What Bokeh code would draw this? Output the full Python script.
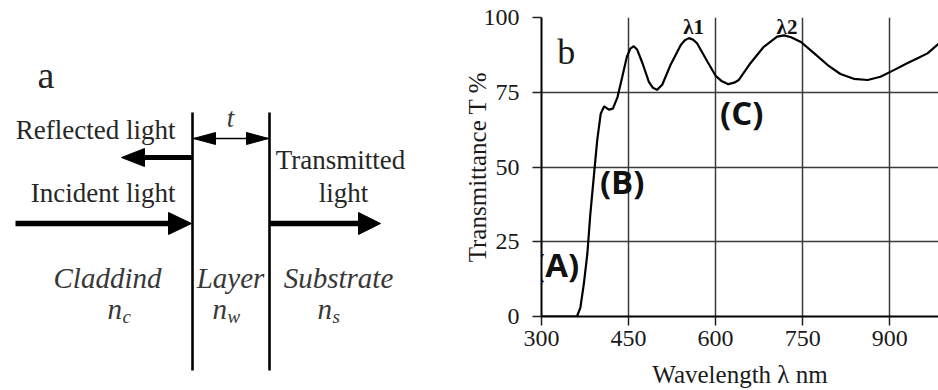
from bokeh.plotting import figure
from bokeh.layouts import row
from bokeh.models import Range1d, FixedTicker, Label
from bokeh.core.properties import value
from bokeh.embed import file_html
from bokeh.resources import INLINE

# ---------------- data (panel b) ----------------
WAVELENGTH = [300, 330, 361, 367, 373, 379, 384, 390, 396, 402, 408, 416, 423,
              431, 439, 447, 453, 459, 465, 474, 485, 492, 499, 508, 522, 540,
              547, 554, 561, 568, 586, 600, 610, 622, 632, 640, 660, 683, 706,
              718, 730, 747, 770, 793, 815, 838, 862, 884, 907, 930, 948, 965, 984]
TRANSMITTANCE = [0, 0, 0, 3, 11, 21, 34, 46.5, 59, 67.8, 70.3, 69.2, 69.5,
                 73.4, 80, 86.8, 89.6, 90.4, 89.2, 84.7, 78.5, 76.5, 75.8, 77.5, 84, 90.8,
                 92.4, 93.1, 92.6, 91.4, 85.2, 80.5, 78.8, 77.7, 78.2, 79.1, 84.7, 90.2, 93.6,
                 94, 93.4, 91.8, 88, 84.1, 81.1, 79.5, 79.1, 80.2, 82.4, 84.7, 86.4, 88, 91.2]
X_TICKS = [300, 450, 600, 750, 900]
Y_TICKS = [0, 25, 50, 75, 100]

REGION_LABELS = ["(A)", "(B)", "(C)"]
REGION_X = [326, 439, 645]
REGION_Y = [24.8, 52.8, 75.7]     # top of text box
PEAK_LABELS = ["λ1", "λ2"]
PEAK_X = [562, 723]
PEAK_Y = [101, 101]

# ---------------- diagram (panel a), pixel layout ----------------
DIAG_VLINES_X = [192, 269]
DIAG_VLINES_Y = [112, 370]
# arrows: (x_start, x_tip, y, shaft width, head length, head half width)
DIAG_ARROWS = [
    (192, 121, 157, 5, 23, 9),     # reflected
    (15, 191, 223, 5.5, 23, 11),   # incident
    (269, 380, 223, 5.5, 22, 11),  # transmitted
]
DIM_Y = 138
DIAG_TEXTS = [  # text, x, baseline y, size px, align, style
    ("a", 37, 87, 38, "left", "normal"),
    ("Reflected light", 175, 139, 27, "right", "normal"),
    ("Incident light", 175, 202, 27, "right", "normal"),
    ("Transmitted", 340, 169, 27, "center", "normal"),
    ("light", 343, 202, 27, "center", "normal"),
    ("t", 230, 127, 27, "center", "italic"),
    ("Claddind", 107, 287, 29, "center", "italic"),
    ("Layer", 230, 287, 29, "center", "italic"),
    ("Substrate", 338, 287, 29, "center", "italic"),
    ("n", 107, 318, 29, "left", "italic"),
    ("n", 212, 318, 29, "left", "italic"),
    ("n", 317, 318, 29, "left", "italic"),
    ("c", 122, 322, 19, "left", "italic"),
    ("w", 227, 322, 19, "left", "italic"),
    ("s", 332, 322, 19, "left", "italic"),
]

SERIF = value("Liberation Serif")
SERIF_ASCENT = 0.891


def head(tip_x, tip_y, direction, length, half):
    base = tip_x - direction * length
    return [tip_x, base, base], [tip_y, tip_y - half, tip_y + half]


# ---------------- left figure ----------------
left = figure(width=460, height=390, x_range=Range1d(0, 460), y_range=Range1d(390, 0),
              x_axis_type=None, y_axis_type=None, output_backend="svg",
              toolbar_location=None, min_border=0, outline_line_color=None)
left.grid.visible = False
left.min_border_left = left.min_border_right = left.min_border_top = left.min_border_bottom = 0

for vx in DIAG_VLINES_X:
    left.line([vx, vx], DIAG_VLINES_Y, line_color="black", line_width=2.6)

hx, hy = [], []
for xs, xt, yy, w, hl, hw in DIAG_ARROWS:
    d = 1 if xt > xs else -1
    left.line([xs, xt - d * (hl - 2)], [yy, yy], line_color="black", line_width=w)
    a, b = head(xt, yy, d, hl, hw)
    hx.append(a)
    hy.append(b)
# dimension arrow
left.line([DIAG_VLINES_X[0], DIAG_VLINES_X[1]], [DIM_Y, DIM_Y], line_color="black", line_width=1.5)
a, b = head(DIAG_VLINES_X[0] + 1, DIM_Y, -1, 22, 6)
hx.append(a); hy.append(b)
a, b = head(DIAG_VLINES_X[1] - 1, DIM_Y, 1, 22, 6)
hx.append(a); hy.append(b)
left.patches(hx, hy, fill_color="black", line_color="black", line_width=1)

for t, tx, ty, sz, al, st in DIAG_TEXTS:
    left.text(x=[tx], y=[ty - SERIF_ASCENT * sz], text=[t], text_font=SERIF,
              text_font_size=f"{sz}px", text_align=al, text_baseline="top",
              text_font_style=st,
              text_color="#262626" if st == "normal" else "#383838")

# ---------------- right figure ----------------
p = figure(width=478, height=390, x_range=Range1d(300, 984), y_range=Range1d(0, 100),
           output_backend="svg", toolbar_location=None, outline_line_color=None)
p.min_border_left = 81
p.min_border_right = 0
p.min_border_top = 17
p.min_border_bottom = 74

for fig in (left, p):
    if "frame_align" in fig.properties():
        fig.frame_align = False

p.xaxis.ticker = FixedTicker(ticks=X_TICKS)
p.yaxis.ticker = FixedTicker(ticks=Y_TICKS)
for ax in (p.xaxis, p.yaxis):
    ax.major_label_text_font = "Liberation Serif"
    ax.major_label_text_font_size = "24px"
    ax.major_label_text_color = "#1a1a1a"
    ax.axis_label_text_font = "Liberation Serif"
    ax.axis_label_text_font_size = "25px"
    ax.axis_label_text_font_style = "normal"
    ax.axis_label_text_color = "#1a1a1a"
    ax.axis_line_color = "black"
    ax.axis_line_width = 2
    ax.major_tick_in = 0
    ax.major_tick_out = 9
    ax.major_tick_line_color = "#222222"
    ax.major_tick_line_width = 1.5
    ax.minor_tick_line_color = None
p.xaxis.axis_label = "Wavelength λ nm"
p.yaxis.axis_label = "Transmittance T %"
p.xaxis.major_label_standoff = 5
p.yaxis.major_label_standoff = 13
p.xaxis.axis_label_standoff = 12
p.yaxis.axis_label_standoff = -10
p.grid.grid_line_color = "#3a3a3a"
p.grid.grid_line_width = 1.5

p.line(WAVELENGTH, TRANSMITTANCE, line_color="black", line_width=2.2)

for t, lx, ly in zip(REGION_LABELS, REGION_X, REGION_Y):
    p.add_layout(Label(x=lx, y=ly, text=t, text_font="Open Sans", text_font_style="bold",
                       text_font_size="33px", text_align="center", text_baseline="top",
                       text_color="#111111"))
for t, lx, ly in zip(PEAK_LABELS, PEAK_X, PEAK_Y):
    p.add_layout(Label(x=lx, y=ly, text=t, text_font="Liberation Serif", text_font_style="bold",
                       text_font_size="21px", text_align="center", text_baseline="top",
                       text_color="#111111"))
p.add_layout(Label(x=327, y=95.3, text="b", text_font="Liberation Serif",
                   text_font_size="36px", text_align="left", text_baseline="top",
                   text_color="#1a1a1a"))

layout = row(left, p)
open("out.html", "w").write(file_html(layout, INLINE))
